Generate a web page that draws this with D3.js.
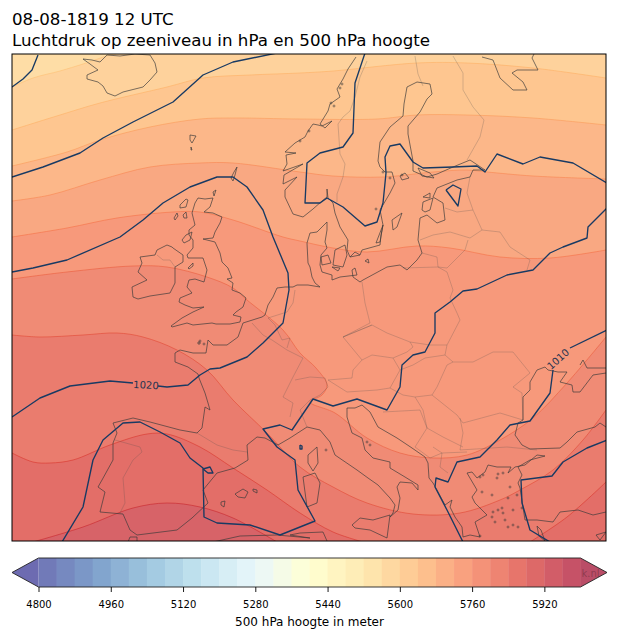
<!DOCTYPE html>
<html>
<head>
<meta charset="utf-8">
<script src="https://cdn.jsdelivr.net/npm/d3@7"></script>
<style>
  html, body { margin: 0; padding: 0; background: #fff; }
  text { font-family: "DejaVu Sans", sans-serif; }
</style>
</head>
<body>
<script>
// colorbar levels, meters
var barLevels = d3.range(4800, 6000, 40);
var barTicks = [4800, 4960, 5120, 5280, 5440, 5600, 5760, 5920];
var rdYlBu = ["#313695", "#4575b4", "#74add1", "#abd9e9", "#e0f3f8", "#ffffbf", "#fee090", "#fdae61", "#f46d43", "#d73027", "#a50026"];

var titleLines = ["08-08-1819 12 UTC", "Luchtdruk op zeeniveau in hPa en 500 hPa hoogte"];
var barLabel = "500 hPa hoogte in meter";

// all map geometry below is digitised in the map grid: x 12-606, y 54-541 (y down)
var baseHeight = 5560;
var edge5600 = [[12,87],[33,78],[60,71],[83,64],[110,55],[116,54]];
var edge5640 = [[12,130],[60,115],[100,103],[167,87],[203,78],[250,75],[300,73],[333,71],[417,63],[467,63],[533,68],[606,78]];
var edge5680 = [[12,166],[67,152],[100,140],[150,127],[200,119],[233,118],[300,119],[377,119],[417,115],[467,115],[533,118],[606,125]];
var edge5720 = [[12,201],[50,195],[100,180],[150,167],[200,163],[233,163],[300,172],[333,176],[383,177],[433,172],[467,170],[487,172],[533,176],[606,179]];
var edge5760 = [[12,237],[67,228],[117,218],[173,212],[200,212],[233,220],[283,237],[300,241],[333,248],[367,252],[417,246],[450,248],[500,257],[550,258],[606,250]];
var edge5800 = [[12,279],[67,272],[133,266],[167,267],[207,277],[233,288],[247,300],[283,330],[300,353],[316,368],[327,385],[322,395],[310,402],[335,413],[367,438],[400,453],[433,458],[467,455],[500,440],[533,418],[567,383],[606,337]];
var edge5840 = [[12,335],[40,337],[83,335],[117,333],[143,337],[177,350],[207,370],[233,400],[267,433],[300,467],[333,487],[367,503],[413,514],[460,513],[500,500],[520,490],[553,470],[583,440],[606,410]];
var edge5880a = [[12,453],[33,462],[50,463],[73,460],[110,445],[147,434],[167,434],[200,447],[233,468],[267,490],[300,513],[333,532],[363,542]];
var edge5880b = [[530,542],[567,517],[606,482]];
var edge5920 = [[33,542],[83,527],[133,508],[167,503],[200,507],[233,518],[277,542]];

var isobar1 = [[12,87],[23,79],[32,70],[38,55]];
var isobar2 = [[12,177],[43,167],[80,153],[103,138],[133,122],[173,102],[203,75],[233,62],[277,53]];
var isobar3 = [[365,53],[355,83],[353,133],[343,147],[320,153],[307,163],[305,203],[320,203],[327,198],[343,207],[365,226],[377,222],[383,203],[386,173],[385,157],[390,146],[400,144],[413,162],[423,168],[453,167],[477,166],[485,172],[497,154],[523,164],[540,157],[573,163],[607,183]];
var isobar4 = [[446,190],[453,185],[461,189],[458,206],[446,190]];
var isobar1020a = [[12,417],[40,398],[70,386],[110,381],[133,383]];
var isobar1020b = [[158,386],[167,387],[188,385],[200,375],[210,369],[220,368],[247,357],[263,343],[283,323],[289,290],[288,273],[273,237],[263,210],[247,187],[233,177],[217,177],[190,187],[163,203],[143,220],[120,237],[67,260],[33,268],[12,272]];
var isobar5 = [[62,542],[83,507],[93,460],[103,440],[123,423],[140,422],[160,432],[180,443],[190,458],[203,468],[204,517],[217,523],[250,525],[280,535],[315,521],[298,490],[295,460],[277,447],[263,429],[280,425],[292,430],[313,399],[333,406],[357,399],[387,410],[400,387],[402,365],[413,355],[425,352],[435,333],[435,313],[450,302],[463,291],[477,289],[507,275],[533,270],[550,253],[563,247],[587,238],[588,227],[607,208]];
var isobar1010a = [[463,542],[447,510],[435,487],[436,478],[448,482],[457,462],[480,457],[497,440],[510,425],[530,421],[550,393],[553,370]];
var isobar1010b = [[570,348],[607,330]];
var isobar6 = [[550,542],[530,530],[522,503],[521,480],[552,476],[563,462],[587,448],[607,440]];
var isobar7 = [[203,469],[210,467],[213,473],[208,473],[203,469]];
var isobar8 = [[300,445],[302,446],[302,449],[300,449],[300,445]];

var coastIceland = [[83,59],[92,60],[100,62],[107,55],[120,56],[135,54],[150,55],[155,63],[157,72],[150,80],[143,87],[123,92],[115,96],[107,93],[103,86],[98,82],[87,79],[87,75],[98,70],[90,64],[83,59]];
var coastBritain = [[198,198],[205,199],[213,198],[210,207],[204,212],[213,213],[222,217],[220,223],[215,232],[213,238],[203,239],[215,242],[220,253],[222,262],[228,268],[232,278],[227,279],[233,283],[232,290],[240,293],[246,298],[243,307],[236,312],[233,315],[241,317],[240,322],[230,324],[216,324],[212,323],[193,325],[187,323],[172,327],[171,326],[182,318],[193,312],[204,307],[193,308],[185,305],[179,302],[180,298],[192,293],[187,287],[189,280],[195,279],[204,282],[207,270],[203,258],[188,258],[187,255],[193,248],[193,240],[189,235],[189,230],[195,225],[192,213],[195,203],[198,198]];
var coastIreland = [[140,257],[155,255],[157,250],[167,245],[172,247],[173,248],[183,255],[183,262],[175,267],[175,283],[170,293],[150,296],[138,299],[133,297],[132,287],[147,280],[138,272],[142,263],[140,257]];
var coastHebrides = [[180,205],[186,199],[188,200],[186,207],[180,208],[180,205]];
var coastHarris = [[174,218],[177,213],[178,216],[175,220],[174,218]];
var coastSkye = [[183,215],[186,212],[187,218],[184,218],[183,215]];
var coastMull = [[182,240],[186,235],[192,232],[190,240],[184,243],[182,240]];
var coastOrkney = [[213,192],[216,190],[214,196],[213,192]];
var coastShetland = [[231,178],[234,172],[237,167],[235,175],[233,181],[231,178]];
var coastFaroe = [[190,135],[196,136],[192,143],[190,140],[190,135]];
var coastFaroe2 = [[191,147],[192,150],[191,150],[191,147]];
var coastMan = [[188,268],[193,263],[193,266],[189,269],[188,268]];
var coastChannel = [[198,342],[200,342],[200,344],[198,344],[198,342]];
var coastNorway = [[356,57],[348,69],[343,79],[337,89],[340,97],[330,104],[328,111],[320,124],[325,128],[332,121],[322,126],[318,125],[313,124],[308,131],[305,137],[295,143],[285,152],[296,153],[286,155],[287,164],[283,171],[303,164],[284,175],[283,184],[297,177],[285,190],[285,197],[293,214],[303,217],[313,209],[322,201],[327,197],[327,189],[328,198],[333,203],[335,213],[340,227],[348,240],[347,250],[350,257],[360,255],[362,250],[380,245],[381,235],[383,225],[380,210],[390,193],[395,183],[392,172],[385,172],[380,167],[378,161],[380,142],[390,127],[403,116],[404,104],[407,87],[417,82],[430,84],[432,94],[427,99],[420,112],[408,126],[408,134],[413,161],[413,171],[427,177],[437,174],[453,167],[470,160],[485,170]];
var coastBaltic = [[485,170],[473,170],[470,177],[457,180],[437,188],[433,197],[443,203],[445,220],[437,223],[427,215],[420,218],[418,240],[422,253],[417,260],[407,270],[400,265],[387,267],[363,280],[360,282],[353,277],[352,270],[355,268],[357,275],[340,277],[332,280],[332,275],[322,272],[320,265],[321,255],[327,248],[325,242],[327,230],[327,222],[322,227],[317,232],[310,233],[307,243],[308,263],[310,267],[312,277],[315,283],[320,287],[308,285],[297,285],[293,287],[285,287],[277,288],[273,297],[268,305],[265,315],[262,317],[243,323],[238,337],[227,345],[213,345],[208,340],[206,353],[193,353],[180,350],[175,353],[175,362],[188,367],[198,374],[199,378],[205,393],[208,403],[210,410],[205,407],[202,428],[197,433],[180,430],[150,422],[133,418],[125,420],[113,423],[117,433],[113,443],[113,460],[102,480],[98,487],[105,492],[100,512],[123,514],[130,530],[137,535],[177,530],[192,518],[208,503],[203,490],[217,473],[235,468],[248,460],[247,445],[257,437],[265,438],[278,445],[290,438],[307,427],[320,430],[330,442],[335,455],[357,470],[368,478],[378,485],[390,498],[395,505],[393,513],[390,517],[398,510],[400,498],[397,487],[400,482],[412,483],[418,490],[418,485],[405,477],[390,468],[390,462],[373,458],[365,450],[362,438],[352,433],[347,417],[347,408],[355,408],[362,405],[370,412],[378,427],[397,438],[412,448],[425,457],[428,463],[429,478],[433,483],[437,490],[445,505],[452,500],[450,507],[455,517],[462,527],[463,537],[470,535],[480,537],[475,522],[487,515],[475,503],[472,497],[477,490],[467,473],[472,472],[477,478],[485,472],[488,465],[497,467],[511,467],[508,473],[515,467],[525,465],[537,455],[545,456],[530,460],[518,467],[522,475],[518,483],[520,488],[525,520],[537,520],[553,522],[560,512],[578,510],[593,515],[606,512]];
var coastBlackSea = [[518,423],[515,435],[522,445],[530,449],[560,448],[567,442],[577,432],[595,427],[600,423],[606,427]];
var coastBlackWest = [[518,423],[523,420],[523,397],[530,390],[530,382],[537,370],[545,367],[548,370],[558,372],[567,372],[560,382],[572,385],[573,392],[580,392],[593,375],[606,373]];
var coastAzov = [[580,365],[583,360],[587,368],[606,368]];
var coastKola = [[482,57],[493,60],[500,78],[513,90],[527,90],[523,82],[512,73],[517,70],[538,70],[532,58],[534,54]];
var coastJutlandN = [[360,255],[355,252],[350,257]];
var coastSicily = [[352,525],[360,518],[373,520],[390,515],[387,538],[370,530],[355,528],[352,525]];
var coastSardinia = [[303,477],[315,473],[320,483],[317,503],[307,507],[305,492],[303,477]];
var coastCorsica = [[308,455],[317,447],[318,463],[313,471],[308,463],[308,455]];
var coastMallorca = [[235,494],[243,489],[248,492],[245,498],[238,497],[235,494]];
var coastMenorca = [[253,489],[257,490],[257,493],[253,491],[253,489]];
var coastIbiza = [[221,502],[225,501],[224,507],[221,505],[221,502]];
var coastAfrica = [[213,542],[240,536],[277,535],[310,538],[290,535],[300,533],[323,532],[327,541]];
var coastCeuta = [[128,542],[130,537],[137,537],[137,542]];
var coastGotland = [[393,230],[392,220],[402,213],[397,227],[393,230]];
var coastOland = [[376,243],[383,225],[380,242],[376,243]];
var coastSaaremaa = [[422,210],[423,202],[433,198],[430,210],[425,212],[422,210]];
var coastHiiumaa = [[423,197],[430,193],[430,198],[423,197]];
var coastBornholm = [[365,261],[368,259],[369,263],[365,261]];
var coastZealand = [[335,250],[345,245],[347,255],[343,267],[333,265],[335,250]];
var coastFunen = [[321,257],[328,255],[331,263],[322,265],[321,257]];
var coastLolland = [[332,267],[340,268],[338,271],[332,267]];
var coastAland = [[400,176],[405,173],[409,178],[402,180],[400,176]];
var coastAland2 = [[418,168],[430,173],[434,178],[422,176],[418,168]];
var coastCrete = [[596,535],[606,532],[600,540],[596,535]];
var coastLesbos = [[537,526],[541,530],[545,541],[539,536],[537,526]];
var islets = [[480,477],[483,475],[498,474],[503,473],[497,478],[482,492],[492,495],[510,487],[508,498],[517,495],[522,508],[513,510],[503,513],[493,512],[492,517],[495,522],[505,520],[508,527],[513,525],[518,527],[498,510],[502,508],[480,536],[367,442],[370,445],[326,450],[204,344],[200,341],[342,84],[340,88],[331,103],[334,106],[309,131],[300,141],[376,209],[383,172],[390,178],[402,175]];

var borderNorway = [[367,61],[360,77],[355,97],[350,111],[343,117],[338,124],[340,154],[345,164],[343,177],[337,194],[337,202]];
var borderFinlandWest = [[415,56],[418,74],[423,86]];
var borderFinlandEast = [[453,56],[463,73],[463,90],[473,107],[484,120],[480,137],[467,160]];
var borderEstonia = [[470,177],[467,193],[473,210],[482,230]];
var borderLatvia = [[473,210],[457,212],[445,208]];
var borderLithuania = [[420,240],[433,235],[450,232],[470,238],[482,230]];
var borderBelarusEast = [[482,230],[500,232],[510,247],[530,260],[527,270]];
var borderBelarusSouth = [[422,253],[437,257],[438,267],[447,268],[465,250],[468,240]];
var borderPolandNorth = [[403,268],[438,267]];
var borderPolandWest = [[362,282],[365,303],[370,323],[343,337],[372,325],[387,333],[410,342],[430,345],[447,345]];
var borderPolandEast = [[438,267],[447,272],[453,290],[450,298],[457,313],[460,320],[447,345]];
var borderGermanyWest = [[295,290],[293,303],[287,312],[268,318]];
var borderBelgium = [[252,323],[263,335],[272,340],[287,350],[303,358],[293,377],[283,397],[293,403],[290,417]];
var borderLux = [[282,340],[290,338],[287,348]];
var borderGermanyNetherlands = [[268,318],[275,325],[282,340]];
var borderAlps = [[307,427],[300,410],[310,400],[320,395],[328,387],[325,378],[310,377],[295,380]];
var borderCzech = [[343,337],[372,325]];
var borderCzechSouth = [[410,342],[413,347],[407,352],[393,358],[372,355],[362,360],[343,337]];
var borderAustria = [[362,360],[353,370],[352,378],[328,380],[347,392],[377,390],[390,388],[400,370],[393,358]];
var borderSlovakia = [[400,370],[413,365],[425,358],[445,355],[447,345]];
var borderHungary = [[445,355],[453,362],[447,365],[437,387],[432,395],[415,397],[403,395],[390,388]];
var borderRomania = [[453,362],[473,362],[493,352],[513,352],[530,373],[513,387],[522,393],[523,420],[500,413],[463,423],[457,415],[432,395]];
var borderBulgaria = [[460,418],[463,433],[460,450],[507,447],[537,450]];
var borderCroatia = [[383,412],[420,410],[427,428],[415,447],[430,458]];
var borderSerbia = [[415,397],[423,410],[427,428],[443,437],[463,447]];
var borderMacedonia = [[433,447],[442,453],[467,452]];
var borderAlbania = [[430,458],[442,453],[440,467],[448,473]];
var borderPortugal = [[115,440],[140,447],[142,452],[133,460],[123,478],[125,503],[120,513]];
var borderPyrenees = [[197,433],[217,445],[233,450],[247,452]];
var borderNorthernIreland = [[157,255],[163,260],[170,260],[175,267]];

var bandEdges = [edge5600, edge5640, edge5680, edge5720, edge5760, edge5800, edge5840, edge5880a, edge5880b, edge5920];
var bandHeights = [5600, 5640, 5680, 5720, 5760, 5800, 5840, 5880, 5880, 5920];
var bandClosings = [
  [[606,54],[606,542],[12,542]], [[606,542],[12,542]], [[606,542],[12,542]], [[606,542],[12,542]], [[606,542],[12,542]],
  [[606,542],[12,542]], [[606,542],[12,542]], [[12,542]], [[606,542]], []
];
var isobars = [isobar1, isobar2, isobar3, isobar4, isobar1020a, isobar1020b, isobar5, isobar1010a, isobar1010b, isobar6, isobar7, isobar8];
var coasts = [coastIceland, coastBritain, coastIreland, coastHebrides, coastHarris, coastSkye, coastMull, coastOrkney, coastShetland, coastFaroe, coastFaroe2, coastMan, coastChannel, coastNorway, coastBaltic, coastBlackSea, coastBlackWest, coastAzov, coastKola, coastJutlandN, coastSicily, coastSardinia, coastCorsica, coastMallorca, coastMenorca, coastIbiza, coastAfrica, coastCeuta, coastGotland, coastOland, coastSaaremaa, coastHiiumaa, coastBornholm, coastZealand, coastFunen, coastLolland, coastAland, coastAland2, coastCrete, coastLesbos];
var borders = [borderNorway, borderFinlandWest, borderFinlandEast, borderEstonia, borderLatvia, borderLithuania, borderBelarusEast, borderBelarusSouth, borderPolandNorth, borderPolandWest, borderPolandEast, borderGermanyWest, borderBelgium, borderLux, borderGermanyNetherlands, borderAlps, borderCzech, borderCzechSouth, borderAustria, borderSlovakia, borderHungary, borderRomania, borderBulgaria, borderCroatia, borderSerbia, borderMacedonia, borderAlbania, borderPortugal, borderPyrenees, borderNorthernIreland];
var isobarLabels = [
  { text: "1020", at: [146, 385], angle: 3 },
  { text: "1010", at: [558, 359], angle: -42 }
];

var w = 618;
var h = 639;
var mapBox = { left: 12, right: 606, top: 54, bottom: 541 };
var barBox = { left: 38.5, right: 580.5, top: 558, bottom: 587, tip: 26.5 };
var fillAlpha = 0.7;

var svg = d3.select("body")
  .append("svg")
  .attr("width", w)
  .attr("height", h)
  .style("display", "block");

var x = d3.scaleLinear().domain([12, 606]).range([mapBox.left, mapBox.right]);
var y = d3.scaleLinear().domain([54, 541]).range([mapBox.top, mapBox.bottom]);

var palette = d3.scaleLinear()
  .domain(d3.range(rdYlBu.length).map(function(d) { return d / (rdYlBu.length - 1); }))
  .range(rdYlBu);

// flatten the alpha of the filled contours over white
function overWhite(color) {
  var c = d3.rgb(color);
  return d3.rgb(
    c.r * fillAlpha + 255 * (1 - fillAlpha),
    c.g * fillAlpha + 255 * (1 - fillAlpha),
    c.b * fillAlpha + 255 * (1 - fillAlpha)
  ).formatHex();
}
function mapColor(height) {
  return overWhite(palette((height - 4800) / 1200));
}
function barColor(height) {
  return overWhite(palette((height - 4800 + 20) / 1200));
}

var lineGen = d3.line()
  .x(function(d) { return x(d[0]); })
  .y(function(d) { return y(d[1]); });

var smoothLine = d3.line()
  .x(function(d) { return x(d[0]); })
  .y(function(d) { return y(d[1]); })
  .curve(d3.curveCatmullRom.alpha(0.5));

svg.append("text")
  .attr("x", mapBox.left)
  .attr("y", 25)
  .attr("font-size", "16.67px")
  .attr("fill", "#000")
  .text(titleLines[0]);

svg.append("text")
  .attr("x", mapBox.left)
  .attr("y", 45.5)
  .attr("font-size", "16.67px")
  .attr("fill", "#000")
  .text(titleLines[1]);

svg.append("clipPath")
  .attr("id", "mapClip")
  .append("rect")
  .attr("x", mapBox.left)
  .attr("y", mapBox.top)
  .attr("width", mapBox.right - mapBox.left)
  .attr("height", mapBox.bottom - mapBox.top);

var map = svg.append("g").attr("clip-path", "url(#mapClip)");

map.append("rect")
  .attr("x", mapBox.left)
  .attr("y", mapBox.top)
  .attr("width", mapBox.right - mapBox.left)
  .attr("height", mapBox.bottom - mapBox.top)
  .attr("fill", mapColor(baseHeight));

map.selectAll("path.band")
  .data(bandEdges)
  .enter()
  .append("path")
  .attr("class", "band")
  .attr("d", function(d, i) {
    var tail = bandClosings[i].map(function(p) { return "L" + x(p[0]) + "," + y(p[1]); }).join("");
    return smoothLine(d) + tail + "Z";
  })
  .attr("fill", function(d, i) { return mapColor(bandHeights[i]); });

map.selectAll("path.edge")
  .data(bandEdges)
  .enter()
  .append("path")
  .attr("class", "edge")
  .attr("d", smoothLine)
  .attr("fill", "none")
  .attr("stroke", function(d, i) { return palette((bandHeights[i] - 4800) / 1200); })
  .attr("stroke-opacity", 0.7)
  .attr("stroke-width", 0.8);

map.selectAll("path.border")
  .data(borders)
  .enter()
  .append("path")
  .attr("class", "border")
  .attr("d", lineGen)
  .attr("fill", "none")
  .attr("stroke", "#4a4a4a")
  .attr("stroke-opacity", 0.3)
  .attr("stroke-width", 0.8);

map.selectAll("path.coast")
  .data(coasts)
  .enter()
  .append("path")
  .attr("class", "coast")
  .attr("d", lineGen)
  .attr("fill", "none")
  .attr("stroke", "#3a3a3a")
  .attr("stroke-opacity", 0.8)
  .attr("stroke-width", 0.85);

map.selectAll("circle.islet")
  .data(islets)
  .enter()
  .append("circle")
  .attr("class", "islet")
  .attr("cx", function(d) { return x(d[0]); })
  .attr("cy", function(d) { return y(d[1]); })
  .attr("r", 1)
  .attr("fill", "none")
  .attr("stroke", "#3a3a3a")
  .attr("stroke-opacity", 0.8)
  .attr("stroke-width", 0.7);

map.selectAll("path.isobar")
  .data(isobars)
  .enter()
  .append("path")
  .attr("class", "isobar")
  .attr("d", lineGen)
  .attr("fill", "none")
  .attr("stroke", "#183a63")
  .attr("stroke-width", 1.35)
  .attr("stroke-linejoin", "round");

map.selectAll("text.isobarLabel")
  .data(isobarLabels)
  .enter()
  .append("text")
  .attr("class", "isobarLabel")
  .attr("transform", function(d) {
    return "translate(" + x(d.at[0]) + "," + y(d.at[1]) + ") rotate(" + d.angle + ")";
  })
  .attr("text-anchor", "middle")
  .attr("dy", "0.36em")
  .attr("font-size", "10px")
  .attr("fill", "#1f3350")
  .text(function(d) { return d.text; });

svg.append("rect")
  .attr("x", mapBox.left)
  .attr("y", mapBox.top)
  .attr("width", mapBox.right - mapBox.left)
  .attr("height", mapBox.bottom - mapBox.top)
  .attr("fill", "none")
  .attr("stroke", "#000")
  .attr("stroke-width", 1);

// colorbar
var barX = d3.scaleLinear().domain([4800, 6000]).range([barBox.left, barBox.right]);
var barMid = (barBox.top + barBox.bottom) / 2;

svg.selectAll("rect.swatch")
  .data(barLevels)
  .enter()
  .append("rect")
  .attr("class", "swatch")
  .attr("x", function(d) { return barX(d); })
  .attr("y", barBox.top)
  .attr("width", barX(4840) - barX(4800) + 0.4)
  .attr("height", barBox.bottom - barBox.top)
  .attr("fill", function(d) { return barColor(d); });

svg.append("path")
  .attr("d", d3.line()([[barBox.left, barBox.top], [barBox.left - barBox.tip, barMid], [barBox.left, barBox.bottom]]) + "Z")
  .attr("fill", barColor(4760));

svg.append("path")
  .attr("d", d3.line()([[barBox.right, barBox.top], [barBox.right + barBox.tip, barMid], [barBox.right, barBox.bottom]]) + "Z")
  .attr("fill", barColor(6000));

svg.append("text")
  .attr("x", barBox.right + 1)
  .attr("y", barMid + 4)
  .attr("font-size", "10px")
  .attr("fill", "#000")
  .attr("fill-opacity", 0.25)
  .text("k.nl");

svg.append("path")
  .attr("d", d3.line()([
    [barBox.left, barBox.top], [barBox.right, barBox.top], [barBox.right + barBox.tip, barMid],
    [barBox.right, barBox.bottom], [barBox.left, barBox.bottom], [barBox.left - barBox.tip, barMid]
  ]) + "Z")
  .attr("fill", "none")
  .attr("stroke", "#222")
  .attr("stroke-width", 0.9);

var barAxis = d3.axisBottom(barX)
  .tickValues(barTicks)
  .tickSize(5)
  .tickPadding(9)
  .tickFormat(d3.format("d"));

var axisG = svg.append("g")
  .attr("transform", "translate(0," + barBox.bottom + ")")
  .call(barAxis);
axisG.select(".domain").remove();
axisG.selectAll("text")
  .attr("font-size", "10px")
  .attr("font-family", "\"DejaVu Sans\", sans-serif")
  .attr("fill", "#000");
axisG.selectAll("line").attr("stroke", "#000").attr("stroke-width", 0.9);

svg.append("text")
  .attr("x", (barBox.left + barBox.right) / 2)
  .attr("y", 626)
  .attr("text-anchor", "middle")
  .attr("font-size", "12px")
  .attr("fill", "#000")
  .text(barLabel);
</script>
</body>
</html>
